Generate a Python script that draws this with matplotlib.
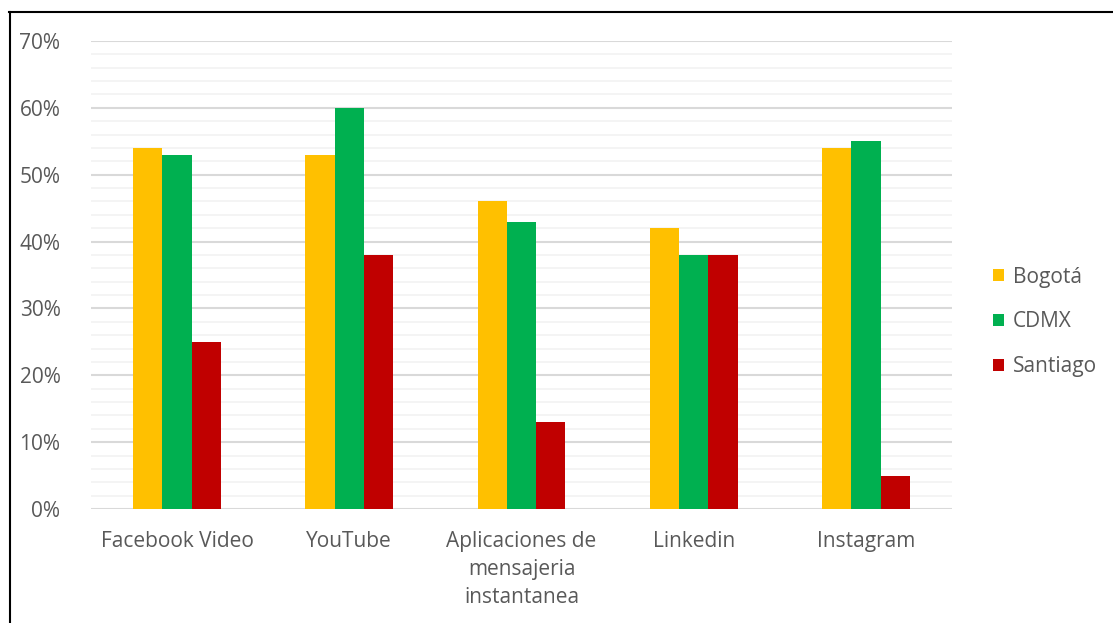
import matplotlib
matplotlib.use("Agg")
import matplotlib.pyplot as plt
import numpy as np
from matplotlib.lines import Line2D
from matplotlib.patches import Patch

categories = ["Facebook Video", "YouTube", "Aplicaciones de\nmensajeria\ninstantanea", "Linkedin", "Instagram"]
series_names = ["Bogotá", "CDMX", "Santiago"]
bogota = [0.54, 0.53, 0.46, 0.42, 0.54]
cdmx = [0.53, 0.60, 0.43, 0.38, 0.55]
santiago = [0.25, 0.38, 0.13, 0.38, 0.05]
colors = ["#FFC000", "#00B050", "#C00000"]
yticks = [0, 0.1, 0.2, 0.3, 0.4, 0.5, 0.6, 0.7]
ytick_labels = ["0%", "10%", "20%", "30%", "40%", "50%", "60%", "70%"]

plt.rcParams['font.family'] = ['Open Sans', 'DejaVu Sans']
W, H = 1113, 623
fig = plt.figure(figsize=(W/100, H/100), dpi=100)
ax = fig.add_axes([91/W, 1-509/H, (952-91)/W, (509-41)/H])

x = np.arange(len(categories))
bw = 0.17
for i, (vals, c) in enumerate(zip([bogota, cdmx, santiago], colors)):
    ax.bar(x + (i-1)*bw, vals, width=bw, color=c, zorder=3, label=series_names[i])

ax.set_xlim(-0.5, len(categories)-0.5)
ax.set_ylim(0, 0.7)
ax.set_yticks(yticks)
ax.set_yticklabels(ytick_labels)
ax.set_yticks(np.arange(0, 0.70001, 0.02), minor=True)
ax.grid(axis='y', which='minor', color='#F2F2F2', lw=1.2, zorder=0)
ax.grid(axis='y', which='major', color='#D9D9D9', lw=1.5, zorder=1)
ax.set_xticks(x)
ax.set_xticklabels(categories, linespacing=1.42, va='top')
ax.tick_params(axis='both', which='both', length=0, labelsize=15, colors='#595959')
ax.tick_params(axis='y', pad=22)
ax.tick_params(axis='x', pad=16)
for s in ax.spines.values():
    s.set_visible(False)

handles = [Patch(facecolor=c, edgecolor='none') for c in colors]
leg = fig.legend(handles, series_names, loc='center left', bbox_to_anchor=(974/W, 1-322/H),
                 frameon=False, fontsize=15, handlelength=0.55, handleheight=0.55,
                 handletextpad=0.4, labelspacing=1.15, labelcolor='#595959')

fig.add_artist(Line2D([9/W, 1], [1-11.5/H, 1-11.5/H], color='black', lw=1.5, transform=fig.transFigure))
fig.add_artist(Line2D([9.5/W, 9.5/W], [0, 1-11.5/H], color='black', lw=1.5, transform=fig.transFigure))

fig.savefig("out.png", dpi=100)
